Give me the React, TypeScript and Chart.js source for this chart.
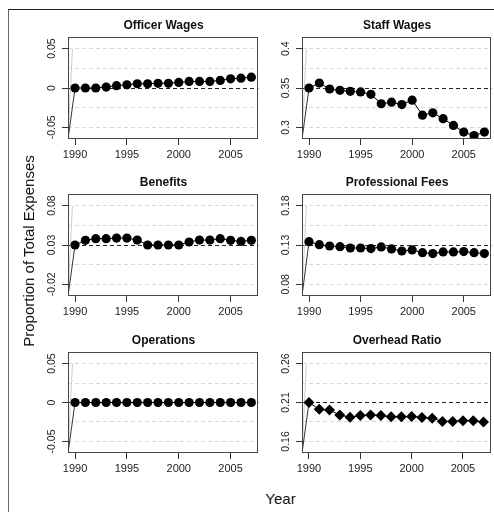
import React, { useEffect, useRef } from "react";
import { Chart, registerables } from "chart.js";

Chart.register(...registerables);

// ---------- data ----------
const years = [1990, 1991, 1992, 1993, 1994, 1995, 1996, 1997, 1998, 1999, 2000, 2001, 2002, 2003, 2004, 2005, 2006, 2007];
const xTicks = [1990, 1995, 2000, 2005];

const officerWages = [0, 0, 0, 0.0012, 0.003, 0.004, 0.0054, 0.0054, 0.006, 0.006, 0.0071, 0.0083, 0.0083, 0.0083, 0.0096, 0.0117, 0.0125, 0.0138];
const staffWages = [0.35, 0.3563, 0.3487, 0.347, 0.3458, 0.345, 0.342, 0.33, 0.332, 0.329, 0.3345, 0.3155, 0.3185, 0.311, 0.3025, 0.294, 0.2895, 0.294];
const benefits = [0.03, 0.0359, 0.038, 0.038, 0.0388, 0.0388, 0.0363, 0.03, 0.03, 0.03, 0.03, 0.0338, 0.0363, 0.0363, 0.038, 0.0359, 0.0346, 0.0359];
const professionalFees = [0.1342, 0.1304, 0.1287, 0.1279, 0.1262, 0.1262, 0.1254, 0.1275, 0.125, 0.1224, 0.1237, 0.1203, 0.1191, 0.1212, 0.1212, 0.1216, 0.1203, 0.1191];
const operations = [0, 0, 0, 0, 0, 0, 0, 0, 0, 0, 0, 0, 0, 0, 0, 0, 0, 0];
const overheadRatio = [0.21, 0.2012, 0.2003, 0.194, 0.191, 0.1932, 0.194, 0.1932, 0.1916, 0.1916, 0.192, 0.1907, 0.1899, 0.1857, 0.1857, 0.1865, 0.1865, 0.1849];

const officerTicks = [-0.05, 0, 0.05];
const staffTicks = [0.3, 0.35, 0.4];
const benefitsTicks = [-0.02, 0.03, 0.08];
const feesTicks = [0.08, 0.13, 0.18];
const operationsTicks = [-0.05, 0, 0.05];
const overheadTicks = [0.16, 0.21, 0.26];

// lead-in strokes at the left edge of every panel (offsets from the panel's centre value)
const leadX = [1989.3, 1990];
const leadOffset = -0.067;
const guideX = [1989.3, 1989.75];
const guideOffsets = [-0.07, 0.05];

const titles = ["Officer Wages", "Staff Wages", "Benefits", "Professional Fees", "Operations", "Overhead Ratio"];
const yAxisTitle = "Proportion of Total Expenses";
const xAxisTitle = "Year";

// ---------- layout ----------
const X_MIN = 1989.32;
const X_MAX = 2007.68;
const HALF = 0.0648;
const ML = 60, MT = 6, MB = 30, MR = 4;
const FONT = "'Liberation Sans', Arial, Helvetica, sans-serif";

const cols = [
  { left: 68, width: 191 },
  { left: 302, width: 190 },
];
const rows = [
  { top: 37, height: 102 },
  { top: 194, height: 102 },
  { top: 352, height: 101 },
];

type Spec = { title: string; values: number[]; ticks: number[]; diamond?: boolean };

const specs: Spec[] = [
  { title: titles[0], values: officerWages, ticks: officerTicks },
  { title: titles[1], values: staffWages, ticks: staffTicks },
  { title: titles[2], values: benefits, ticks: benefitsTicks },
  { title: titles[3], values: professionalFees, ticks: feesTicks },
  { title: titles[4], values: operations, ticks: operationsTicks },
  { title: titles[5], values: overheadRatio, ticks: overheadTicks, diamond: true },
];

const boxPlugin = {
  id: "box",
  afterDatasetsDraw(chart: any) {
    const { ctx, chartArea: a } = chart;
    ctx.save();
    ctx.strokeStyle = "#444";
    ctx.lineWidth = 1;
    ctx.strokeRect(Math.round(a.left) + 0.5, Math.round(a.top) + 0.5, Math.round(a.right - a.left) - 1, Math.round(a.bottom - a.top) - 1);
    ctx.restore();
  },
};

const yLabelPlugin = {
  id: "yLabels",
  afterDraw(chart: any) {
    const { ctx, chartArea: a } = chart;
    const scale = chart.scales.y;
    const labels: number[] = chart.options.plugins.yLabels.values;
    ctx.save();
    ctx.font = `10.5px ${FONT}`;
    ctx.fillStyle = "#222";
    ctx.textAlign = "center";
    ctx.textBaseline = "middle";
    for (const v of labels) {
      const py = scale.getPixelForValue(v);
      ctx.save();
      ctx.translate(a.left - 15.5, py);
      ctx.rotate(-Math.PI / 2);
      ctx.fillText(String(v), 0, 0);
      ctx.restore();
    }
    ctx.restore();
  },
};

function Panel({ spec, left, top, width, height }: { spec: Spec; left: number; top: number; width: number; height: number }) {
  const ref = useRef<HTMLCanvasElement>(null);
  const cw = ML + width + MR;
  const ch = MT + height + MB;

  useEffect(() => {
    const canvas = ref.current!;
    const { values, ticks } = spec;
    const center = ticks[1];
    const gridVals = [ticks[0], (ticks[0] + ticks[1]) / 2, ticks[1], (ticks[1] + ticks[2]) / 2, ticks[2]];
    const near = (a: number, b: number) => Math.abs(a - b) < 1e-9;
    const isLabeled = (v: number) => ticks.some((t) => near(t, v));

    const chart = new Chart(canvas, {
      type: "line",
      data: {
        datasets: [
          {
            data: years.map((x, i) => ({ x, y: values[i] })),
            borderColor: "#000",
            borderWidth: 1,
            pointStyle: spec.diamond ? "rectRot" : "circle",
            pointRadius: spec.diamond ? 5.5 : 4.6,
            pointBackgroundColor: "#000",
            pointBorderColor: "#000",
            pointBorderWidth: 0,
            tension: 0,
            clip: 0,
          } as any,
          {
            data: leadX.map((x, i) => ({ x, y: i === 0 ? center + leadOffset : values[0] })),
            borderColor: "#333",
            borderWidth: 1,
            pointRadius: 0,
            clip: 0,
          } as any,
          {
            data: guideX.map((x, i) => ({ x, y: center + guideOffsets[i] })),
            borderColor: "#cfcfcf",
            borderWidth: 1,
            pointRadius: 0,
            clip: 0,
          } as any,
        ],
      },
      options: {
        animation: false,
        responsive: false,
        maintainAspectRatio: false,
        devicePixelRatio: 1,
        events: [],
        layout: { padding: { top: MT, right: MR, left: 0, bottom: 0 } },
        plugins: {
          legend: { display: false },
          tooltip: { enabled: false },
          title: { display: false },
          yLabels: { values: ticks },
        } as any,
        scales: {
          x: {
            type: "linear",
            min: X_MIN,
            max: X_MAX,
            afterBuildTicks: (s: any) => {
              s.ticks = xTicks.map((v) => ({ value: v }));
            },
            afterFit: (s: any) => {
              s.height = MB;
            },
            grid: { drawOnChartArea: false, drawTicks: true, tickLength: 6, tickColor: "#333", tickWidth: 1 },
            border: { display: false },
            ticks: {
              font: { size: 11, family: FONT },
              color: "#222",
              padding: 3,
              maxRotation: 0,
              autoSkip: false,
              callback: (v: any) => String(v),
            },
          },
          y: {
            type: "linear",
            min: center - HALF,
            max: center + HALF,
            afterBuildTicks: (s: any) => {
              s.ticks = gridVals.map((v) => ({ value: v }));
            },
            afterFit: (s: any) => {
              s.width = ML;
            },
            grid: {
              color: (c: any) => (near(c.tick.value, center) ? "#222" : "#d9d9d9"),
              lineWidth: 1,
              drawTicks: true,
              tickLength: 6,
              tickWidth: 1,
              tickColor: (c: any) => (isLabeled(c.tick.value) ? "#333" : "rgba(0,0,0,0)"),
            },
            border: { display: false, dash: [4, 3] },
            ticks: { display: false },
          },
        },
      } as any,
      plugins: [boxPlugin, yLabelPlugin],
    });
    return () => chart.destroy();
  }, []);

  return (
    <>
      <canvas
        ref={ref}
        width={cw}
        height={ch}
        style={{ position: "absolute", left: left - ML, top: top - MT, width: cw, height: ch }}
      />
      <div
        style={{
          position: "absolute",
          left,
          top: top - 19,
          width,
          textAlign: "center",
          font: `bold 12px ${FONT}`,
          lineHeight: "15px",
          color: "#111",
          whiteSpace: "nowrap",
        }}
      >
        {spec.title}
      </div>
    </>
  );
}

export default function App() {
  return (
    <div style={{ position: "absolute", left: 0, top: 0, width: 494, height: 512, background: "#fff", overflow: "hidden" }}>
      <div
        style={{
          position: "absolute",
          left: 8,
          top: 9,
          width: 600,
          height: 600,
          borderTop: "1px solid #222",
          borderLeft: "1px solid #666",
        }}
      />
      {specs.map((s, i) => {
        const c = cols[i % 2];
        const r = rows[Math.floor(i / 2)];
        return <Panel key={i} spec={s} left={c.left} top={r.top} width={c.width} height={r.height} />;
      })}
      <div
        style={{
          position: "absolute",
          left: 27.5 - 150,
          top: 251 - 8,
          width: 300,
          height: 16,
          lineHeight: "16px",
          textAlign: "center",
          font: `15px ${FONT}`,
          color: "#111",
          transform: "rotate(-90deg)",
          transformOrigin: "50% 50%",
          whiteSpace: "nowrap",
        }}
      >
        {yAxisTitle}
      </div>
      <div
        style={{
          position: "absolute",
          left: 68,
          top: 491,
          width: 425,
          textAlign: "center",
          font: `15px ${FONT}`,
          lineHeight: "15px",
          color: "#111",
        }}
      >
        {xAxisTitle}
      </div>
    </div>
  );
}
